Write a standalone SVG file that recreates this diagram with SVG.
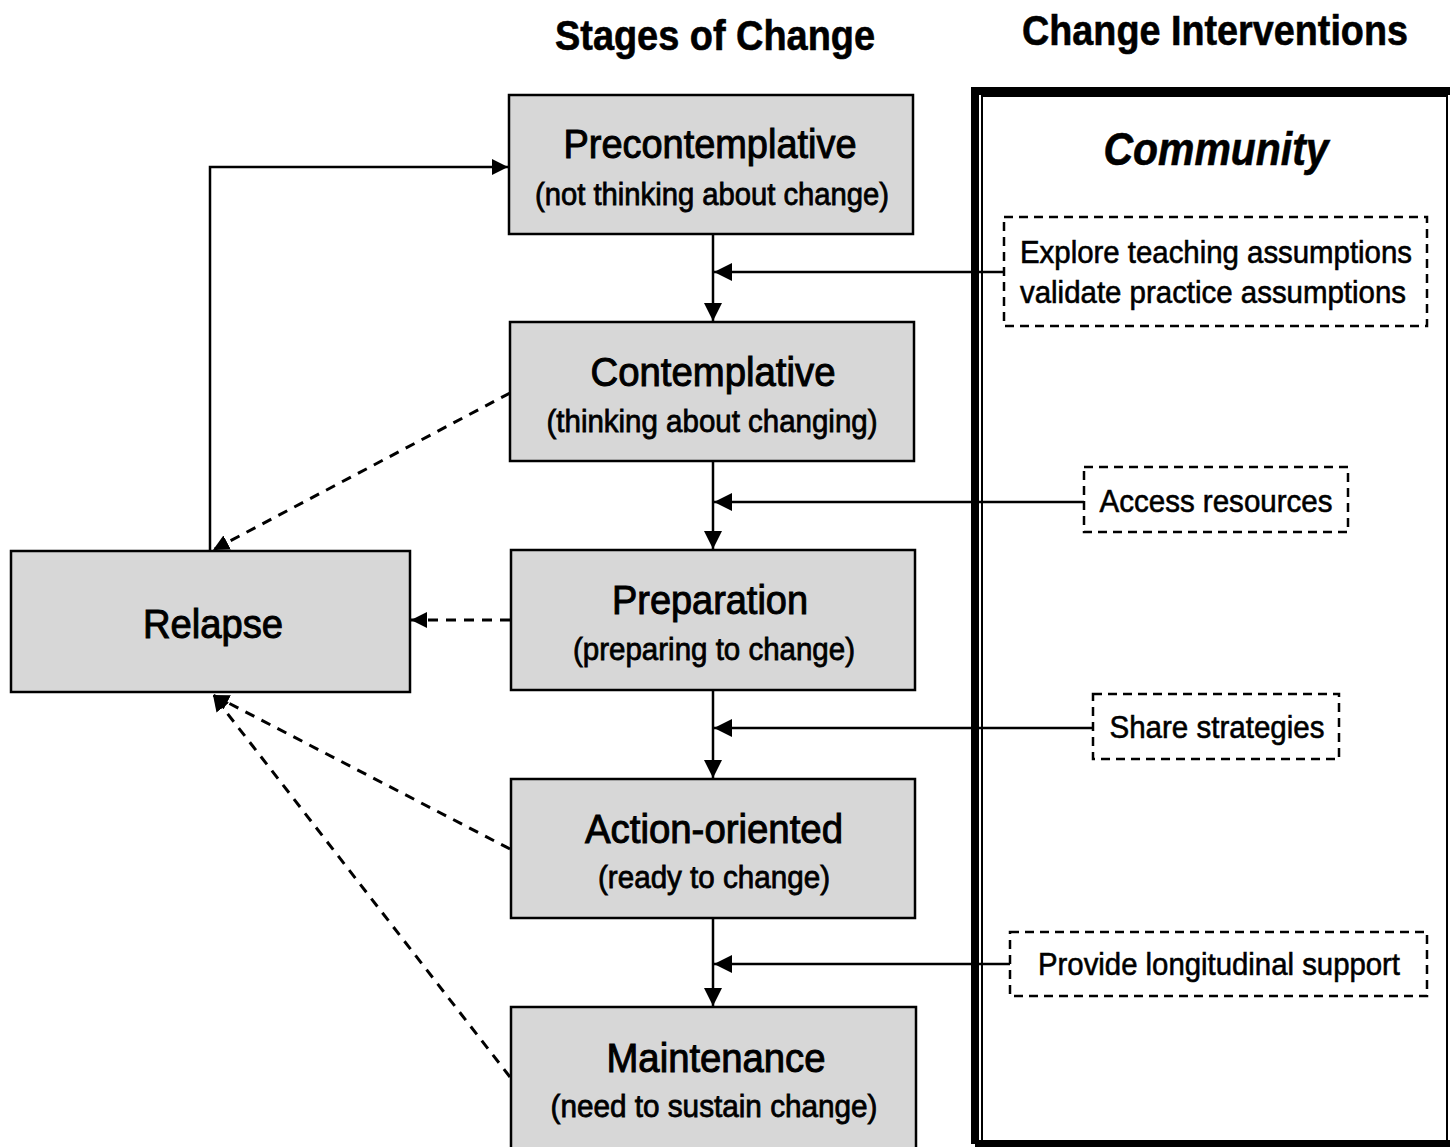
<svg xmlns="http://www.w3.org/2000/svg" width="1450" height="1147" viewBox="0 0 1450 1147">
<style>
.stage{fill:#d7d7d7;stroke:#000;stroke-width:2.5}
.t{font-family:"Liberation Sans",Arial,sans-serif;fill:#000;text-anchor:middle}
.t1{font-size:40px;stroke:#000;stroke-width:1}
.t2{font-size:32px;stroke:#000;stroke-width:0.8}
.ti{font-size:32px;stroke:#000;stroke-width:0.6}
.ti2{font-size:31px;stroke:#000;stroke-width:0.6}
.title{font-size:42px;font-weight:bold;stroke:#000;stroke-width:0.6}
.iv{fill:none;stroke:#000;stroke-width:2.5;stroke-dasharray:9 6}
.solid{fill:none;stroke:#000;stroke-width:2.5}
.dash{fill:none;stroke:#000;stroke-width:3;stroke-dasharray:10 8}
</style>
<defs>
<marker id="ah" markerUnits="userSpaceOnUse" markerWidth="20" markerHeight="18" refX="18" refY="9" orient="auto">
<path d="M0,0 L18,9 L0,18 Z" fill="#000"/>
</marker>
<marker id="ahs" markerUnits="userSpaceOnUse" markerWidth="18" markerHeight="16" refX="16" refY="8" orient="auto">
<path d="M0,0 L16,8 L0,16 Z" fill="#000"/>
</marker>
</defs>
<rect width="1450" height="1147" fill="#fff"/>
<g id="titles">
<text class="t title" x="715" y="50" textLength="320" lengthAdjust="spacingAndGlyphs">Stages of Change</text>
<text class="t title" x="1215" y="45" textLength="386" lengthAdjust="spacingAndGlyphs">Change Interventions</text>
</g>
<g id="community">
<path d="M975,1144 V91 H1456 M975,1144 H1456" fill="none" stroke="#000" stroke-width="8"/>
<rect x="982" y="96" width="465" height="1046" fill="none" stroke="#000" stroke-width="2"/>
<text class="t" x="1216" y="165" font-size="46" font-weight="bold" font-style="italic" stroke="#000" stroke-width="0.6" textLength="225" lengthAdjust="spacingAndGlyphs">Community</text>
</g>
<g id="connectors">
<path class="solid" d="M713,234 V321" marker-end="url(#ah)"/>
<path class="solid" d="M1004,272 H714" marker-end="url(#ah)"/>
<path class="solid" d="M713,461 V549" marker-end="url(#ah)"/>
<path class="solid" d="M1084,502 H714" marker-end="url(#ah)"/>
<path class="solid" d="M713,690 V778" marker-end="url(#ah)"/>
<path class="solid" d="M1093,728 H714" marker-end="url(#ah)"/>
<path class="solid" d="M713,918 V1006" marker-end="url(#ah)"/>
<path class="solid" d="M1010,964 H714" marker-end="url(#ah)"/>
<path class="solid" d="M210,551 V167 H508" marker-end="url(#ahs)"/>
<path class="dash" d="M510,393 L213,550" marker-end="url(#ahs)"/>
<path class="dash" d="M510,620 L411,620" marker-end="url(#ahs)"/>
<path class="dash" d="M510,849 L213,695" marker-end="url(#ahs)"/>
<path class="dash" d="M510,1077 L213,695" marker-end="url(#ahs)"/>
</g>
<g id="precontemplative">
<rect class="stage" x="509" y="95" width="404" height="139"/>
<text class="t t1" x="710" y="158" textLength="293" lengthAdjust="spacingAndGlyphs">Precontemplative</text>
<text class="t t2" x="712" y="205" textLength="354" lengthAdjust="spacingAndGlyphs">(not thinking about change)</text>
</g>
<g id="contemplative">
<rect class="stage" x="510" y="322" width="404" height="139"/>
<text class="t t1" x="713" y="386" textLength="245" lengthAdjust="spacingAndGlyphs">Contemplative</text>
<text class="t t2" x="712" y="432" textLength="331" lengthAdjust="spacingAndGlyphs">(thinking about changing)</text>
</g>
<g id="preparation">
<rect class="stage" x="511" y="550" width="404" height="140"/>
<text class="t t1" x="710" y="614" textLength="196" lengthAdjust="spacingAndGlyphs">Preparation</text>
<text class="t t2" x="714" y="660" textLength="282" lengthAdjust="spacingAndGlyphs">(preparing to change)</text>
</g>
<g id="action-oriented">
<rect class="stage" x="511" y="779" width="404" height="139"/>
<text class="t t1" x="714" y="843" textLength="258" lengthAdjust="spacingAndGlyphs">Action-oriented</text>
<text class="t t2" x="714" y="888" textLength="232" lengthAdjust="spacingAndGlyphs">(ready to change)</text>
</g>
<g id="maintenance">
<rect class="stage" x="511" y="1007" width="405" height="145"/>
<text class="t t1" x="716" y="1072" textLength="219" lengthAdjust="spacingAndGlyphs">Maintenance</text>
<text class="t t2" x="714" y="1117" textLength="327" lengthAdjust="spacingAndGlyphs">(need to sustain change)</text>
</g>
<g id="relapse">
<rect class="stage" x="11" y="551" width="399" height="141"/>
<text class="t t1" x="213" y="638" textLength="140" lengthAdjust="spacingAndGlyphs">Relapse</text>
</g>
<g id="explore">
<rect class="iv" x="1004" y="217" width="423" height="109"/>
<text class="t ti2" x="1216" y="263" textLength="392" lengthAdjust="spacingAndGlyphs">Explore teaching assumptions</text>
<text class="t ti2" x="1213" y="303" textLength="386" lengthAdjust="spacingAndGlyphs">validate practice assumptions</text>
</g>
<g id="access">
<rect class="iv" x="1084" y="467" width="264" height="65"/>
<text class="t ti" x="1216" y="512" textLength="233" lengthAdjust="spacingAndGlyphs">Access resources</text>
</g>
<g id="share">
<rect class="iv" x="1093" y="694" width="246" height="65"/>
<text class="t ti" x="1217" y="738" textLength="215" lengthAdjust="spacingAndGlyphs">Share strategies</text>
</g>
<g id="longitudinal">
<rect class="iv" x="1010" y="932" width="417" height="64"/>
<text class="t ti" x="1219" y="975" textLength="362" lengthAdjust="spacingAndGlyphs">Provide longitudinal support</text>
</g>
</svg>
